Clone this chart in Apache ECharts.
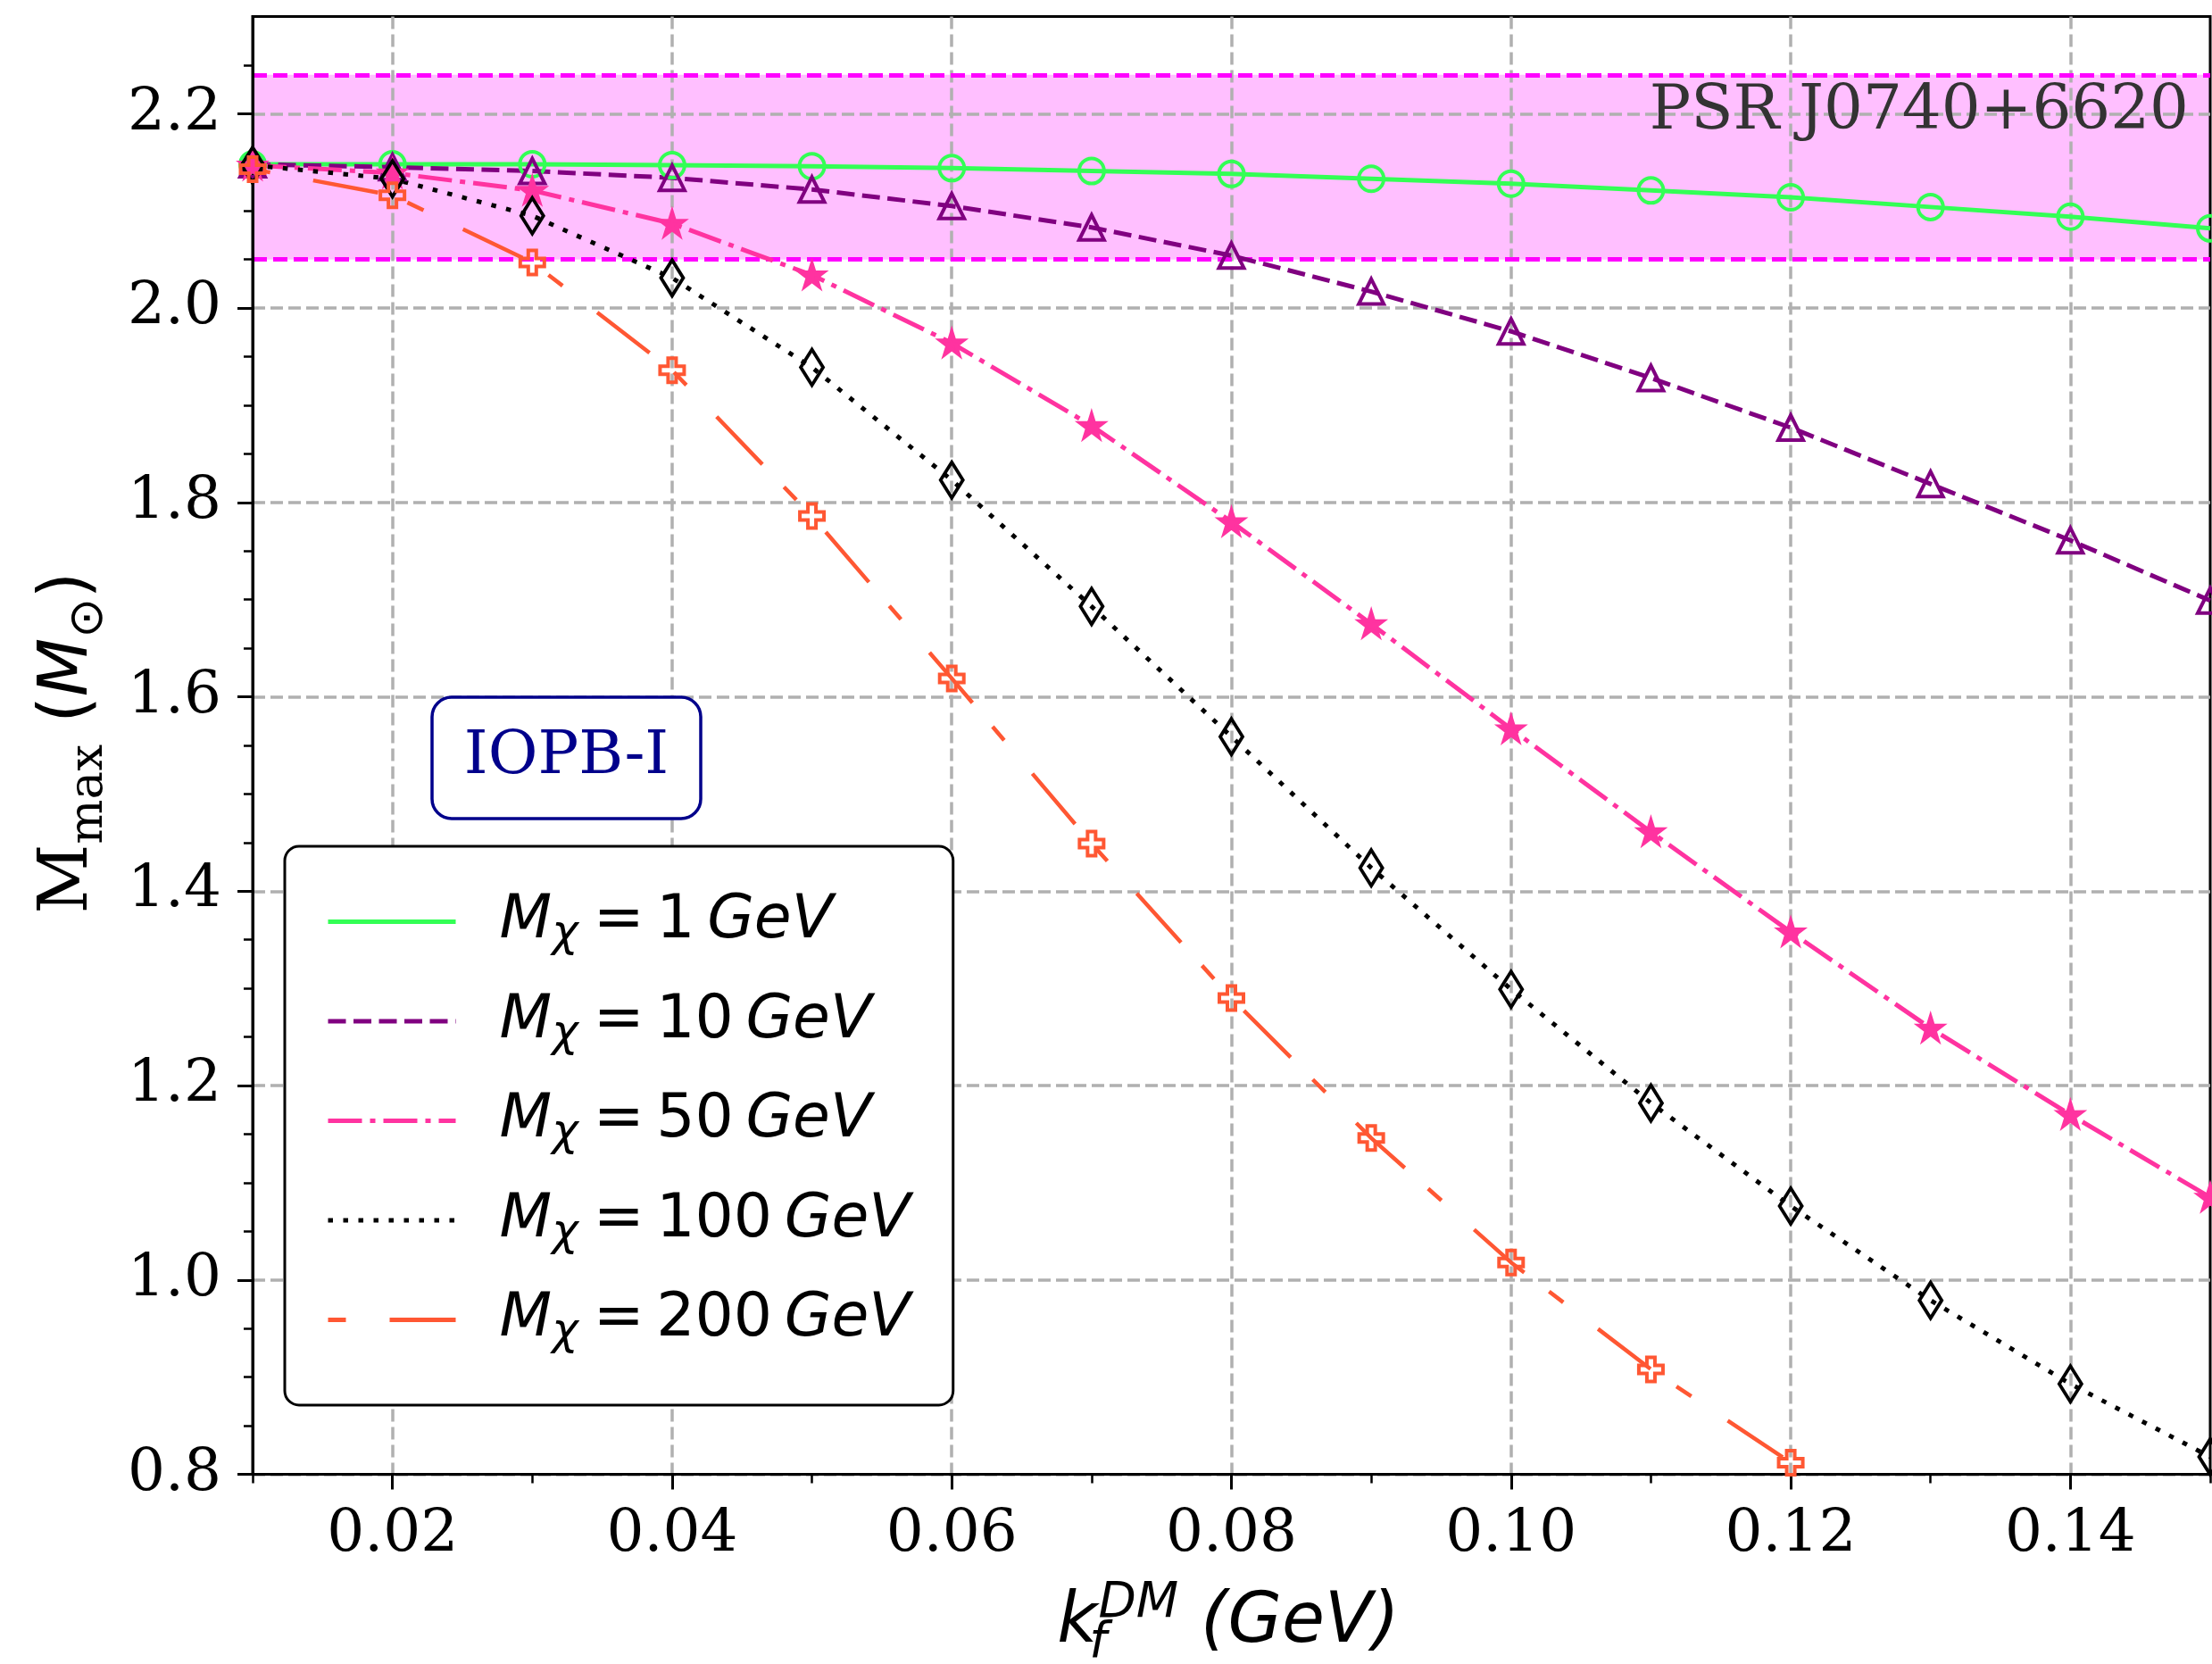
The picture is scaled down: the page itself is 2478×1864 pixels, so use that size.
<!DOCTYPE html>
<html><head><meta charset="utf-8">
<script src="https://cdn.jsdelivr.net/npm/echarts@6/dist/echarts.min.js"></script>
<style>html,body{margin:0;padding:0;background:#fff}#c{width:2478px;height:1864px}</style>
</head><body><div id="c"></div>
<script>
// ---- data ----
const kf = [0.01, 0.02, 0.03, 0.04, 0.05, 0.06, 0.07, 0.08, 0.09, 0.10, 0.11, 0.12, 0.13, 0.14, 0.15];
const masses = ['1', '10', '50', '100', '200'];
const m1   = [2.148, 2.148, 2.148, 2.147, 2.146, 2.144, 2.141, 2.138, 2.133, 2.128, 2.121, 2.114, 2.104, 2.094, 2.082];
const m10  = [2.148, 2.145, 2.141, 2.134, 2.122, 2.105, 2.083, 2.054, 2.017, 1.976, 1.928, 1.877, 1.819, 1.761, 1.699];
const m50  = [2.147, 2.139, 2.121, 2.087, 2.034, 1.964, 1.879, 1.780, 1.675, 1.567, 1.461, 1.358, 1.259, 1.170, 1.085];
const m100 = [2.147, 2.133, 2.095, 2.031, 1.939, 1.823, 1.693, 1.559, 1.424, 1.299, 1.182, 1.076, 0.979, 0.893, 0.818];
const m200 = [2.143, 2.116, 2.047, 1.936, 1.786, 1.619, 1.449, 1.290, 1.146, 1.018, 0.908, 0.812];
const psrBand = [2.05, 2.24];
const xTicks = [0.02, 0.04, 0.06, 0.08, 0.10, 0.12, 0.14];
const xMinor = [0.01, 0.03, 0.05, 0.07, 0.09, 0.11, 0.13, 0.15];
const yTicks = [0.8, 1.0, 1.2, 1.4, 1.6, 1.8, 2.0, 2.2];
const yMinor = [0.85, 0.9, 0.95, 1.05, 1.1, 1.15, 1.25, 1.3, 1.35, 1.45, 1.5, 1.55, 1.65, 1.7, 1.75,
                1.85, 1.9, 1.95, 2.05, 2.1, 2.15, 2.25];

// ---- styling ----
const SERIF = "'DejaVu Serif', serif";
const SANS = "'DejaVu Sans', sans-serif";
const STAR = 'path://M50,0 L61.17,34.63 L97.55,34.55 L68.07,55.87 L79.39,90.45 L50,69 L20.61,90.45 L31.93,55.87 L2.45,34.55 L38.83,34.63 Z';
const PLUS = 'path://M2,0 L4,0 L4,2 L6,2 L6,4 L4,4 L4,6 L2,6 L2,4 L0,4 L0,2 L2,2 Z';

const names = masses.map(m => 'M\u03c7 = ' + m + ' GeV');
const legendRich = {};
names.forEach((n, i) => { legendRich[n] = '{m0|M}{x|\u03c7}{r|\u2005=\u2009' + masses[i] + '}{g|\u2009GeV}'; });

function mk(idx, vals, color, dash, symbol, size, lw, fill) {
  return {
    name: names[idx], type: 'line', z: 3,
    data: vals.map((v, i) => [kf[i], v]),
    symbol: symbol, symbolSize: size, showSymbol: true, symbolKeepAspect: false,
    lineStyle: { color: color, width: lw, type: dash, cap: 'butt', join: 'round' },
    itemStyle: { color: fill ? color : 'rgba(0,0,0,0)', borderColor: color, borderWidth: 4 },
    emphasis: { disabled: true }, animation: false
  };
}

const chart = echarts.init(document.getElementById('c'), null, { renderer: 'canvas' });
const option = {
  backgroundColor: '#fff',
  animation: false,
  grid: { left: 283, right: 2, top: 18.5, bottom: 212.5, show: true, borderColor: '#000', borderWidth: 3, backgroundColor: 'rgba(0,0,0,0)', z: 2 },
  xAxis: [
    { type: 'value', min: 0.01, max: 0.15, z: 2,
      axisLine: { show: true, onZero: false, lineStyle: { color: '#000', width: 3 } },
      axisTick: { show: true, customValues: xTicks, length: 17, lineStyle: { color: '#000', width: 3 } },
      axisLabel: { customValues: xTicks, formatter: v => v.toFixed(2), margin: 35, fontFamily: SERIF, fontSize: 66, color: '#000' },
      splitLine: { show: true, lineStyle: { color: '#b0b0b0', width: 3.5, type: [14, 6] } } },
    { type: 'value', min: 0.01, max: 0.15, position: 'bottom', z: 2,
      axisLine: { show: false }, axisLabel: { show: false }, splitLine: { show: false },
      axisTick: { show: true, customValues: xMinor, length: 10, lineStyle: { color: '#000', width: 2.5 } } }
  ],
  yAxis: [
    { type: 'value', min: 0.8, max: 2.3, z: 2,
      axisLine: { show: true, onZero: false, lineStyle: { color: '#000', width: 3 } },
      axisTick: { show: true, customValues: yTicks, length: 17, lineStyle: { color: '#000', width: 3 } },
      axisLabel: { customValues: yTicks, formatter: v => v.toFixed(1), margin: 35, padding: [12, 0, 0, 0], fontFamily: SERIF, fontSize: 66, color: '#000' },
      splitLine: { show: true, lineStyle: { color: '#b0b0b0', width: 3.5, type: [14, 6] } } },
    { type: 'value', min: 0.8, max: 2.3, position: 'left', z: 2,
      axisLine: { show: false }, axisLabel: { show: false }, splitLine: { show: false },
      axisTick: { show: true, customValues: yMinor, length: 10, lineStyle: { color: '#000', width: 2.5 } } }
  ],
  legend: {
    data: names, orient: 'vertical', left: 319, top: 948,
    itemWidth: 143, itemHeight: 20, itemGap: 37.5,
    padding: [50.5, 48, 55.5, 46],
    backgroundColor: '#fff', borderColor: '#000', borderWidth: 3, borderRadius: 16,
    selectedMode: false, itemStyle: { opacity: 0 }, lineStyle: { width: 5 },
    formatter: n => legendRich[n],
    textStyle: {
      color: '#000', fontSize: 68, fontFamily: SANS,
      rich: {
        m0: { fontFamily: SANS, fontStyle: 'italic', fontSize: 68, lineHeight: 80, padding: [0, 0, 0, 44], color: '#000' },
        x: { fontFamily: SANS, fontStyle: 'italic', fontSize: 50, lineHeight: 55, verticalAlign: 'bottom', color: '#000' },
        r: { fontFamily: SANS, fontSize: 68, lineHeight: 80, color: '#000' },
        g: { fontFamily: SANS, fontStyle: 'italic', fontSize: 68, lineHeight: 80, color: '#000' }
      }
    }
  },
  series: [
    { type: 'line', name: 'band', z: 1, data: [], silent: true, animation: false,
      markArea: { silent: true, z: 1, itemStyle: { color: '#FFBFFF' }, label: { show: false },
        data: [[{ yAxis: psrBand[0] }, { yAxis: psrBand[1] }]] },
      markLine: { silent: true, z: 2, symbol: ['none', 'none'], label: { show: false }, animation: false,
        lineStyle: { color: '#FF00FF', width: 5, type: [16, 7] },
        data: [{ yAxis: psrBand[0] }, { yAxis: psrBand[1] }] } },
    mk(0, m1, '#33FF55', 'solid', 'circle', 28, 5),
    mk(1, m10, '#800080', [20, 8.5], 'triangle', [28, 28], 5),
    mk(2, m50, '#FF33A0', [38, 9, 6, 9], STAR, 26, 5, true),
    mk(3, m100, '#000000', [5.5, 11.5], 'diamond', [25, 40], 5),
    mk(4, m200, '#FF5733', [20, 49, 74, 35], PLUS, 27, 4.5)
  ],
  graphic: [
    { type: 'rect', z: 10, shape: { x: 484, y: 781, width: 301, height: 136, r: 22 },
      style: { fill: '#fff', stroke: '#00008B', lineWidth: 3.5 } },
    { type: 'text', z: 11, x: 634.5, y: 848,
      style: { text: 'IOPB-I', fill: '#00008B', fontFamily: SERIF, fontSize: 68, align: 'center', verticalAlign: 'middle' } },
    { type: 'text', z: 11, x: 2452, y: 126,
      style: { text: 'PSR J0740+6620', fill: '#333333', fontFamily: SERIF, fontSize: 69, align: 'right', verticalAlign: 'middle' } },
    { type: 'text', z: 11, x: 1376, y: 1819,
      style: { text: '{k|k}{f|f}{d|DM}{r| (GeV)}', align: 'center', verticalAlign: 'middle',
        rich: {
          k: { fontFamily: SANS, fontStyle: 'italic', fontSize: 78, lineHeight: 100, fill: '#000' },
          f: { fontFamily: SANS, fontStyle: 'italic', fontSize: 55, lineHeight: 61, width: 1, verticalAlign: 'bottom', fill: '#000' },
          d: { fontFamily: SANS, fontStyle: 'italic', fontSize: 55, lineHeight: 53, verticalAlign: 'top', fill: '#000' },
          r: { fontFamily: SANS, fontStyle: 'italic', fontSize: 78, lineHeight: 100, fill: '#000' }
        } } },
    { type: 'text', z: 11, x: 77, y: 832, rotation: Math.PI / 2,
      style: { text: '{a|M}{b|max}{c| (}{d|M}{e|\u2299}{c|)}', align: 'center', verticalAlign: 'middle',
        rich: {
          a: { fontFamily: SERIF, fontSize: 76, lineHeight: 100, fill: '#000' },
          b: { fontFamily: SERIF, fontSize: 53, lineHeight: 80, verticalAlign: 'bottom', fill: '#000' },
          c: { fontFamily: SANS, fontSize: 76, lineHeight: 100, fill: '#000' },
          d: { fontFamily: SANS, fontStyle: 'italic', fontSize: 76, lineHeight: 100, fill: '#000' },
          e: { fontFamily: SANS, fontSize: 53, lineHeight: 59, verticalAlign: 'bottom', fill: '#000' }
        } } }
  ]
};
chart.setOption(option);
</script></body></html>
